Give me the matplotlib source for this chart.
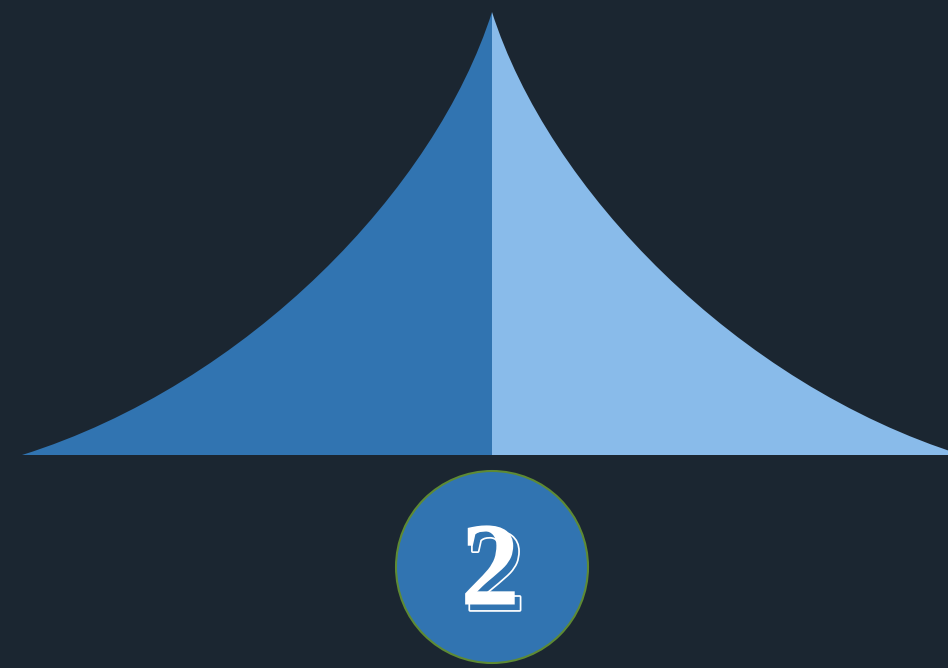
import matplotlib
matplotlib.use("Agg")
import matplotlib.pyplot as plt
from matplotlib.path import Path
from matplotlib.patches import PathPatch, Circle
import matplotlib.patheffects as pe

# ---- data / content ----
categories = ["left", "right"]
half_colors = ["#3174b1", "#89bbea"]
peak_value = 10          # height of the peak (value axis)
peak_center = 5          # category centre
badge_label = "2"
bg_color = "#1b2631"
badge_fill = "#3174b1"
badge_edge = "#5e8a34"

fig = plt.figure(figsize=(9.48, 6.68), dpi=100)
fig.patch.set_facecolor(bg_color)

W, H = 948, 668
ax = fig.add_axes([22 / W, (H - 455) / H, 940 / W, 443 / H])
ax.set_xlim(0, 10)
ax.set_ylim(0, peak_value)
ax.axis("off")
ax.patch.set_alpha(0)

def half_path(side):
    # cubic bezier profile from base corner to peak (side = -1 left, +1 right)
    c = peak_center
    s = side
    v = peak_value
    verts = [
        (c, 0),
        (c + s * 5, 0),
        (c + s * 2.6, v * 0.16),
        (c + s * 0.6, v * 0.60),
        (c, v),
        (c, 0),
    ]
    codes = [Path.MOVETO, Path.LINETO, Path.CURVE4, Path.CURVE4, Path.CURVE4, Path.CLOSEPOLY]
    return Path(verts, codes)

for side, col in zip([-1, 1], half_colors):
    ax.add_patch(PathPatch(half_path(side), facecolor=col, edgecolor="none", clip_on=False))

# badge circle
r = 96
cx, cy = 492, 567
ax2 = fig.add_axes([(cx - r - 2) / W, (H - cy - r - 2) / H, (2 * r + 4) / W, (2 * r + 4) / H])
ax2.set_xlim(-r - 2, r + 2)
ax2.set_ylim(-r - 2, r + 2)
ax2.axis("off")
ax2.patch.set_alpha(0)
ax2.add_patch(Circle((0, 0), r, facecolor=badge_fill, edgecolor=badge_edge, linewidth=1.5))

shadow_off = (3.6, -4.0)
ax2.text(-2, -9, badge_label, color="white", family="Liberation Serif", fontweight="bold",
         fontsize=86, ha="center", va="center",
         path_effects=[
             pe.Stroke(offset=shadow_off, linewidth=2.5, foreground="white"),
             pe.PathPatchEffect(offset=shadow_off, facecolor=badge_fill, edgecolor="none"),
             pe.Normal(),
         ])

fig.savefig("out.png", dpi=100, facecolor=bg_color)
